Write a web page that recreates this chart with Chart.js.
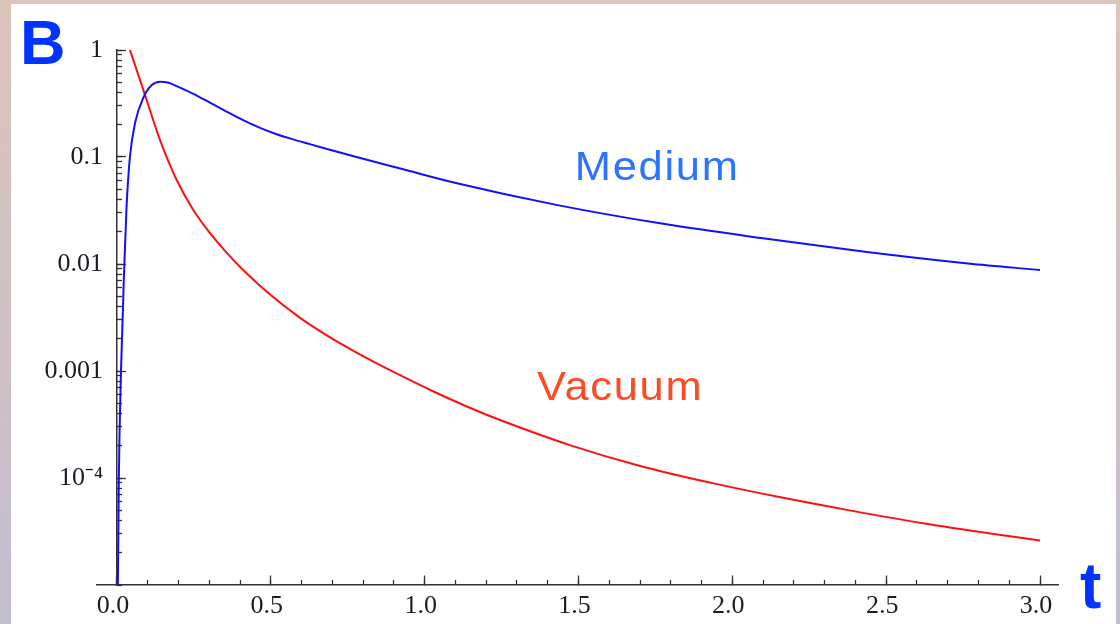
<!DOCTYPE html>
<html>
<head>
<meta charset="utf-8">
<script src="https://cdn.jsdelivr.net/npm/chart.js@4.4.1/dist/chart.umd.min.js"></script>
<style>
  html, body { margin: 0; padding: 0; width: 1120px; height: 624px; overflow: hidden; }
  body { position: relative; background: linear-gradient(180deg, #dcc4b9 0%, #d0c1c4 50%, #c3bdd1 100%); }
  #panel { position: absolute; left: 11px; top: 4px; width: 1105px; height: 620px; background: #fff; }
  #plot { position: absolute; left: 0; top: 0; }
</style>
</head>
<body>
<div id="panel"></div>
<canvas id="plot" width="1120" height="624"></canvas>
<script>
// values (t, B)
const vacuumT = [0.042, 0.086, 0.14, 0.194, 0.248, 0.302, 0.356, 0.41, 0.487, 0.595, 0.702, 0.812, 0.92, 1.027, 1.137, 1.245, 1.474, 1.703, 1.932, 2.161, 2.39, 2.62, 2.85, 3.0];
const vacuumB = [1.0, 0.42, 0.144, 0.061, 0.032, 0.0195, 0.01276, 0.00879, 0.0055, 0.00314, 0.00199, 0.00132, 0.000914, 0.000647, 0.000466, 0.000348, 0.000202, 0.000129, 0.000090, 0.0000656, 0.0000493, 0.0000378, 0.000030, 0.0000261];

const mediumT = [0.002, 0.006, 0.013, 0.024, 0.031, 0.042, 0.059, 0.086, 0.113, 0.14, 0.168, 0.194, 0.248, 0.302, 0.356, 0.41, 0.465, 0.519, 0.573, 0.627, 0.766, 0.93, 1.098, 1.432, 1.765, 2.099, 2.431, 2.766, 3.0];
const mediumB = [0.000005, 0.0001, 0.001, 0.01, 0.034, 0.1, 0.21, 0.36, 0.47, 0.506, 0.494, 0.459, 0.389, 0.322, 0.266, 0.221, 0.187, 0.163, 0.146, 0.132, 0.102, 0.0767, 0.0575, 0.0355, 0.024, 0.0174, 0.013, 0.0101, 0.0088];

const xTickValues = [0, 0.5, 1, 1.5, 2, 2.5, 3];
const xTickLabels = ['0.0', '0.5', '1.0', '1.5', '2.0', '2.5', '3.0'];
const yTickValues = [1e-4, 1e-3, 1e-2, 1e-1, 1];
const yTickLabels = ['10\u207B\u2074', '0.001', '0.01', '0.1', '1'];

const seriesNames = ['Medium', 'Vacuum'];

const toPoints = (ts, bs) => ts.map((t, i) => ({ x: t, y: bs[i] }));

const axisColor = '#333';
const labelColor = '#1c1c28';
const tickFont = { family: '"Liberation Serif", "Times New Roman", serif', size: 26 };

// minor tick positions
const xMinor = [];
for (let i = 0; i <= 30; i++) xMinor.push(i / 10);
const yMinor = [];
for (let e = -5; e < 0; e++) for (let m = 1; m <= 9; m++) yMinor.push(m * Math.pow(10, e));
yMinor.push(1);

const X_MIN = -0.065, X_MAX = 3.0585, Y_MIN = 1e-5, Y_MAX = 1;

// curve names, panel letter and axis letter
const textLabels = {
  id: 'textLabels',
  afterDraw(chart) {
    const { ctx } = chart;
    const x = chart.scales.x, y = chart.scales.y;
    const wide = (text, px, py) => {
      ctx.save();
      ctx.translate(px, py);
      ctx.scale(1.06, 1);
      ctx.fillText(text, 0, 0);
      ctx.restore();
    };
    ctx.save();
    ctx.textBaseline = 'alphabetic';
    ctx.textAlign = 'left';
    ctx.font = '41px "Liberation Sans", Arial, sans-serif';
    ctx.letterSpacing = '1.6px';
    ctx.fillStyle = '#2a74ff';
    wide(seriesNames[0], x.getPixelForValue(1.488), y.getPixelForValue(0.061));
    ctx.fillStyle = '#ff4b24';
    wide(seriesNames[1], x.getPixelForValue(1.365), y.getPixelForValue(0.000536));
    ctx.letterSpacing = '0px';
    ctx.fillStyle = '#0033ff';
    ctx.font = 'bold 63px "Liberation Sans", Arial, sans-serif';
    ctx.fillText('B', 20, 64);
    ctx.font = 'bold 64px "Liberation Sans", Arial, sans-serif';
    ctx.fillText('t', 1080, 608);
    ctx.restore();
  }
};

const tickOnly = len => ({ drawOnChartArea: false, drawTicks: true, tickLength: len, tickColor: axisColor, tickWidth: 1.3 });

new Chart(document.getElementById('plot'), {
  type: 'line',
  data: {
    datasets: [
      { label: seriesNames[0], data: toPoints(mediumT, mediumB), borderColor: '#1010ff', borderWidth: 2, pointRadius: 0, cubicInterpolationMode: 'monotone' },
      { label: seriesNames[1], data: toPoints(vacuumT, vacuumB), borderColor: '#ff1010', borderWidth: 2, pointRadius: 0, cubicInterpolationMode: 'monotone' }
    ]
  },
  options: {
    responsive: false,
    animation: false,
    layout: { padding: { left: 97, right: 62, top: 50, bottom: 39 } },
    plugins: { legend: { display: false }, tooltip: { enabled: false } },
    scales: {
      x: {
        type: 'linear', min: X_MIN, max: X_MAX,
        position: { y: Y_MIN },
        border: { display: true, color: axisColor, width: 1.5 },
        grid: tickOnly(-10),
        afterBuildTicks: s => { s.ticks = xTickValues.map(v => ({ value: v })); },
        ticks: { display: false, autoSkip: false }
      },
      xm: {
        axis: 'x', type: 'linear', min: X_MIN, max: X_MAX,
        position: { y: Y_MIN },
        border: { display: false },
        grid: tickOnly(-5),
        afterBuildTicks: s => { s.ticks = xMinor.map(v => ({ value: v })); },
        ticks: { display: false, autoSkip: false }
      },
      // tick labels of the t axis, hung just below the axis line
      xl: {
        axis: 'x', type: 'linear', min: X_MIN, max: X_MAX,
        position: { y: 8.9e-6 },
        border: { display: false },
        grid: { display: false, drawTicks: false },
        afterBuildTicks: s => { s.ticks = xTickValues.map(v => ({ value: v })); },
        ticks: { autoSkip: false, maxRotation: 0, padding: 0, labelOffset: -4, color: labelColor, font: tickFont, callback: (v, i) => xTickLabels[i] }
      },
      y: {
        type: 'logarithmic', min: Y_MIN, max: Y_MAX,
        position: { x: 0 },
        border: { display: true, color: axisColor, width: 1.5 },
        grid: tickOnly(-10),
        afterBuildTicks: s => { s.ticks = yTickValues.map(v => ({ value: v })); },
        ticks: { display: false, autoSkip: false }
      },
      ym: {
        axis: 'y', type: 'logarithmic', min: Y_MIN, max: Y_MAX,
        position: { x: 0 },
        border: { display: false },
        grid: tickOnly(-5),
        afterBuildTicks: s => { s.ticks = yMinor.map(v => ({ value: v })); },
        ticks: { display: false, autoSkip: false }
      },
      // tick labels of the B axis, right-aligned a little left of the axis line
      yl: {
        axis: 'y', type: 'logarithmic', min: Y_MIN, max: Y_MAX,
        position: { x: -0.0455 },
        border: { display: false },
        grid: { display: false, drawTicks: false },
        afterBuildTicks: s => { s.ticks = yTickValues.map(v => ({ value: v })); },
        ticks: { autoSkip: false, padding: 0, color: labelColor, font: tickFont, callback: (v, i) => yTickLabels[i] }
      }
    }
  },
  plugins: [textLabels]
});
</script>
</body>
</html>
